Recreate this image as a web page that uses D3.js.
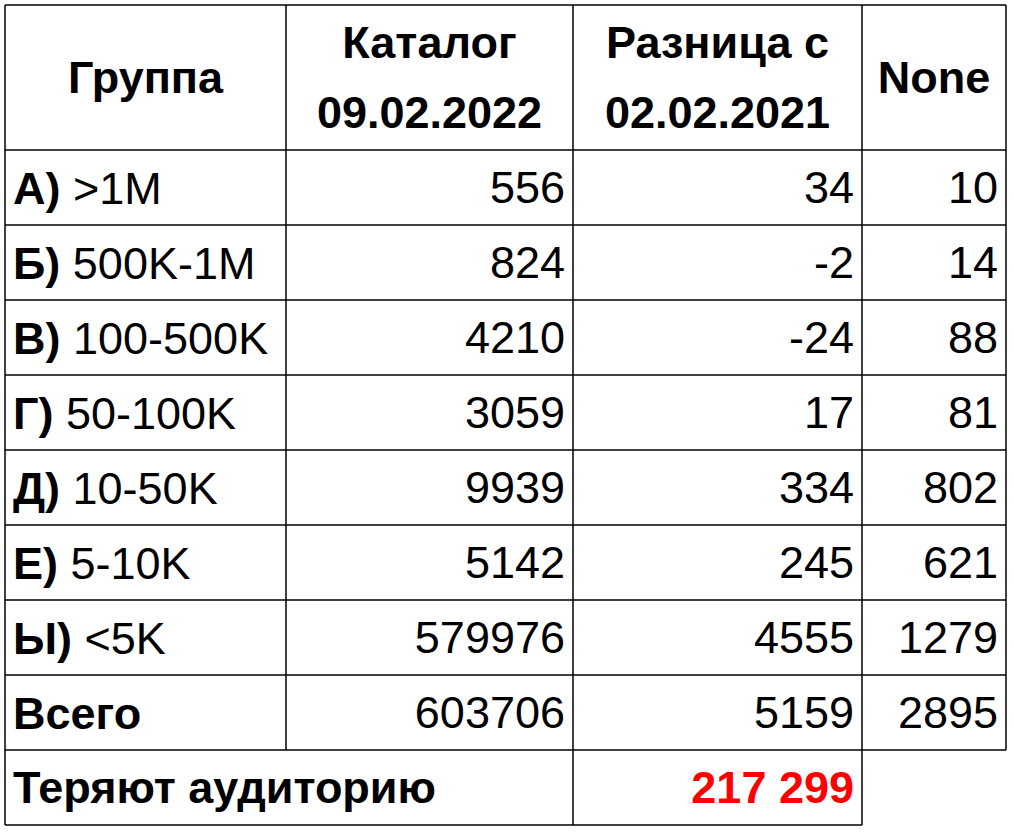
<!DOCTYPE html>
<html>
<head>
<meta charset="utf-8">
<script src="https://cdn.jsdelivr.net/npm/d3@7"></script>
<style>
  body { margin: 0; background: #fff; }
  text { font-family: "Liberation Sans", Arial, sans-serif; font-size: 45px; fill: #000; }
</style>
</head>
<body>
<div id="chart"></div>
<script>
// table data
const headers = [["Группа"], ["Каталог", "09.02.2022"], ["Разница с", "02.02.2021"], ["None"]];
const groupPrefix = ["А)", "Б)", "В)", "Г)", "Д)", "Е)", "Ы)", "Всего"];
const groupLabel = [" >1M", " 500K-1M", " 100-500K", " 50-100K", " 10-50K", " 5-10K", " <5K", ""];
const catalog = [556, 824, 4210, 3059, 9939, 5142, 579976, 603706];
const diff = [34, -2, -24, 17, 334, 245, 4555, 5159];
const noneVals = [10, 14, 88, 81, 802, 621, 1279, 2895];
const footerLabel = "Теряют аудиторию";
const footerValue = "217 299";

const width = 1014, height = 836;
const colEdges = [5, 286, 573, 862, 1006];
const headerTop = 5, headerBottom = 150, rowH = 75;

const svg = d3.select("#chart").append("svg")
    .attr("width", width)
    .attr("height", height);

const rowY = i => headerBottom + i * rowH;
const pad = 8;

// header
headers.forEach((lines, c) => {
    const cx = (colEdges[c] + colEdges[c + 1]) / 2;
    const cy = (headerTop + headerBottom) / 2;
    lines.forEach((t, k) => {
        svg.append("text")
            .attr("x", cx)
            .attr("y", cy + (k - (lines.length - 1) / 2) * 70)
            .attr("text-anchor", "middle")
            .attr("dominant-baseline", "central")
            .style("font-weight", "bold")
            .text(t);
    });
});

// body rows
catalog.forEach((v, i) => {
    const cy = rowY(i) + rowH / 2;
    const t = svg.append("text")
        .attr("x", colEdges[0] + pad)
        .attr("y", cy)
        .attr("dominant-baseline", "central");
    t.append("tspan").style("font-weight", "bold").text(groupPrefix[i]);
    t.append("tspan").text(groupLabel[i]);

    [v, diff[i], noneVals[i]].forEach((val, j) => {
        svg.append("text")
            .attr("x", colEdges[j + 2] - pad)
            .attr("y", cy)
            .attr("text-anchor", "end")
            .attr("dominant-baseline", "central")
            .text(val);
    });
});

// footer
const fy = rowY(catalog.length);
svg.append("text")
    .attr("x", colEdges[0] + pad)
    .attr("y", fy + rowH / 2)
    .attr("dominant-baseline", "central")
    .style("font-weight", "bold")
    .text(footerLabel);
svg.append("text")
    .attr("x", colEdges[3] - pad)
    .attr("y", fy + rowH / 2)
    .attr("text-anchor", "end")
    .attr("dominant-baseline", "central")
    .style("font-weight", "bold")
    .style("fill", "#ff0000")
    .text(footerValue);

// grid lines
const line = (x1, y1, x2, y2) => svg.append("line")
    .attr("x1", x1).attr("y1", y1).attr("x2", x2).attr("y2", y2)
    .attr("stroke", "#000").attr("stroke-width", 1.5);

const lastBody = rowY(catalog.length);
const bottom = fy + rowH;
line(colEdges[0], headerTop, colEdges[4], headerTop);
for (let i = 0; i <= catalog.length; i++) line(colEdges[0], rowY(i), colEdges[4], rowY(i));
line(colEdges[0], bottom, colEdges[3], bottom);
line(colEdges[0], headerTop, colEdges[0], bottom);
line(colEdges[1], headerTop, colEdges[1], lastBody);
line(colEdges[2], headerTop, colEdges[2], bottom);
line(colEdges[3], headerTop, colEdges[3], bottom);
line(colEdges[4], headerTop, colEdges[4], lastBody);
</script>
</body>
</html>
